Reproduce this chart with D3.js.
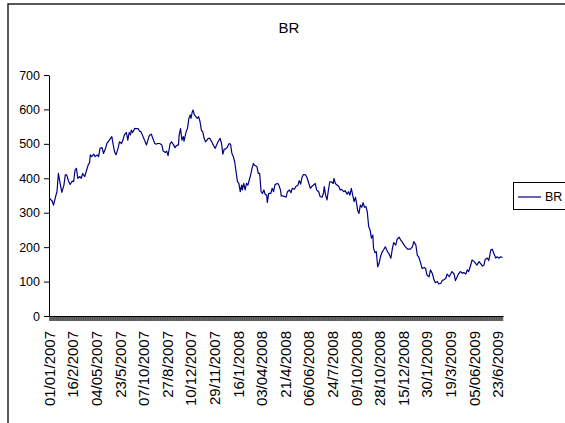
<!DOCTYPE html>
<meta charset="utf-8">
<style>

 body {
     margin: 0;
     background: #fff;
 }

 svg {
     font-family: 'Liberation Sans', Arial, Helvetica, sans-serif;
 }

 .axis path,
 .axis line {
     fill: none;
     stroke: #000;
 }

 .br-line {
     fill: none;
     stroke: #000080;
     stroke-width: 1.2;
     stroke-linejoin: round;
 }

</style>
<body>
<script src="https://cdn.jsdelivr.net/npm/d3@7"></script>
<script>

 var seriesName = "BR";

 // one category per trading day, a label every 34th day
 var tradingDays = 654;
 var labelEvery = 34;
 var dateLabels = ["01/01/2007", "16/2/2007", "04/05/2007", "23/5/2007", "07/10/2007",
                   "27/8/2007", "10/12/2007", "29/11/2007", "16/1/2008", "03/04/2008",
                   "21/4/2008", "06/06/2008", "24/7/2008", "09/10/2008", "28/10/2008",
                   "15/12/2008", "30/1/2009", "19/3/2009", "05/06/2009", "23/6/2009"];

 var yTicks = [0, 100, 200, 300, 400, 500, 600, 700];

 // [trading day, value]
 var brData = [
     [0,342],[4,334],[6,322],[9,347],[11,361],[13,414],[16,380],[18,359],[21,380],[23,410],
     [25,410],[28,390],[30,382],[33,392],[35,390],[37,424],[39,429],[41,400],[44,405],[46,400],
     [48,414],[51,405],[53,419],[56,439],[58,446],[59,468],[61,463],[64,470],[66,463],[69,468],
     [71,463],[73,487],[76,489],[78,472],[81,487],[83,502],[85,506],[88,516],[90,521],[92,497],
     [94,477],[96,468],[99,487],[101,506],[104,501],[106,511],[108,526],[111,533],[113,511],[115,533],
     [117,526],[118,540],[120,533],[123,545],[125,544],[128,544],[130,537],[132,535],[135,521],[137,511],
     [140,497],[142,511],[144,524],[147,528],[149,516],[152,501],[154,499],[156,501],
     [159,501],[162,497],[164,479],[167,475],[169,479],[171,466],[174,501],[176,506],[179,497],[181,489],
     [183,495],[186,497],[187,526],[189,544],[191,511],[193,521],[194,508],[197,535],[199,545],[201,574],
     [203,584],[204,574],[206,594],[207,598],[209,584],[211,579],[213,574],[215,579],[217,565],[219,540],
     [221,535],[223,516],[225,506],[227,511],[229,516],[231,516],[234,506],[236,497],[239,487],[241,497],
     [243,506],[246,516],[248,501],[250,470],[252,485],[254,485],[256,489],[259,501],[261,499],[263,472],
     [265,463],[267,448],[269,419],[271,390],[273,385],[275,361],[277,380],[278,366],[280,385],[282,366],
     [284,385],[286,380],[288,395],[290,410],[292,429],[294,443],[296,437],[299,434],[301,414],[303,414],
     [305,361],[307,356],[309,366],[311,353],[313,351],[314,330],[316,356],[319,356],
     [321,371],[323,361],[325,381],[328,385],[330,383],[333,366],[334,349],[336,349],[339,347],[341,345],
     [343,361],[346,366],[348,358],[350,371],[353,368],[355,376],[358,380],[360,393],[362,383],[364,403],
     [366,411],[369,410],[371,403],[373,390],[376,371],[378,376],[381,381],[383,385],[385,366],[388,361],
     [390,347],[393,345],[395,358],[396,376],[398,351],[400,337],[402,366],[404,390],[406,390],[409,385],
     [410,400],[412,385],[414,381],[417,376],[419,366],[421,368],[424,361],[426,364],[429,354],[431,361],
     [433,351],[435,371],[437,351],[439,332],[441,345],[443,322],[444,308],[446,298],[448,322],[450,316],
     [452,329],[454,316],[456,318],[458,303],[460,260],[462,250],[464,226],[466,235],[467,197],[469,184],
     [471,187],[473,143],[475,153],[477,172],[479,184],
     [482,194],[484,201],[487,187],[489,182],[492,168],[494,194],[496,213],[499,206],[501,223],[504,229],
     [506,221],[508,216],[511,206],[513,201],[516,194],[518,194],[520,194],[523,201],[525,216],[528,206],
     [530,177],[532,172],[535,153],[537,138],[540,141],[542,138],[544,119],[547,114],[549,134],[552,122],
     [554,105],[556,97],[559,100],[561,93],[564,95],[566,103],[568,105],[571,109],[573,122],[576,114],
     [578,122],[580,129],[583,122],[585,103],[588,116],[590,124],[592,129],[595,124],[597,126],[600,122],
     [602,134],[604,129],[607,148],[609,163],[612,158],[614,153],[616,148],[619,158],[621,153],[624,145],
     [626,148],[628,165],[631,168],[633,161],[636,192],[638,194],[640,184],[643,168],[645,172],[648,168],
     [650,172],[653,170]
 ];

 var width = 565,
     height = 423;

 var plot = {left: 49, right: 503, top: 75, bottom: 316};

 var svg = d3.select("body").append("svg")
             .attr("width", width)
             .attr("height", height);

 // chart area frame (runs off the right and bottom edge)
 svg.append("rect")
    .attr("x", 8)
    .attr("y", 4)
    .attr("width", 600)
    .attr("height", 500)
    .attr("fill", "#fff")
    .attr("stroke", "#000")
    .attr("stroke-width", 1.3);

 var xScale = d3.scaleBand()
                .domain(d3.range(tradingDays))
                .range([plot.left, plot.right]);

 var yScale = d3.scaleLinear()
                .domain([0, 700])
                .range([plot.bottom, plot.top]);

 var half = xScale.bandwidth() / 2;

 // Title
 svg.append("text")
    .attr("x", 289)
    .attr("y", 33)
    .attr("text-anchor", "middle")
    .attr("font-size", "15px")
    .text(seriesName);

 // y axis
 var gY = svg.append("g")
             .attr("class", "axis")
             .attr("transform", "translate(" + plot.left + ",0)")
             .call(d3.axisLeft(yScale).tickValues(yTicks).tickSize(5).tickSizeOuter(0))
             .attr("font-family", null)
             .attr("font-size", "12.5px");
 gY.selectAll("text").attr("x", -9).attr("fill", "#000");

 // x axis, a tick for every day
 var gX = svg.append("g")
             .attr("class", "axis")
             .attr("transform", "translate(0," + plot.bottom + ")")
             .call(d3.axisBottom(xScale)
                     .tickValues(d3.range(tradingDays))
                     .tickSize(5)
                     .tickSizeOuter(0)
                     .tickFormat(function(i) { return i % labelEvery === 0 ? dateLabels[i / labelEvery] : ""; }))
             .attr("font-family", null)
             .attr("font-size", "15px");
 gX.selectAll(".tick line").attr("stroke-width", 0.55);
 gX.selectAll("text")
   .attr("transform", "rotate(-90)")
   .attr("x", -15)
   .attr("y", 0)
   .attr("dy", "0.35em")
   .attr("fill", "#000")
   .style("text-anchor", "end");

 svg.append("path")
    .datum(brData)
    .attr("class", "br-line")
    .attr("d", d3.line()
                 .x(function(d) { return xScale(d[0]) + half; })
                 .y(function(d) { return yScale(d[1]); }));

 // legend
 var legend = svg.append("g");
 legend.append("rect")
       .attr("x", 513.5)
       .attr("y", 182.5)
       .attr("width", 60)
       .attr("height", 27)
       .attr("fill", "#fff")
       .attr("stroke", "#000");
 legend.append("line")
       .attr("x1", 518)
       .attr("x2", 541)
       .attr("y1", 197)
       .attr("y2", 197)
       .attr("stroke", "#000080")
       .attr("stroke-width", 1.2);
 legend.append("text")
       .attr("x", 545)
       .attr("y", 197)
       .attr("dy", "0.35em")
       .attr("font-size", "12.5px")
       .text(seriesName);

</script>
